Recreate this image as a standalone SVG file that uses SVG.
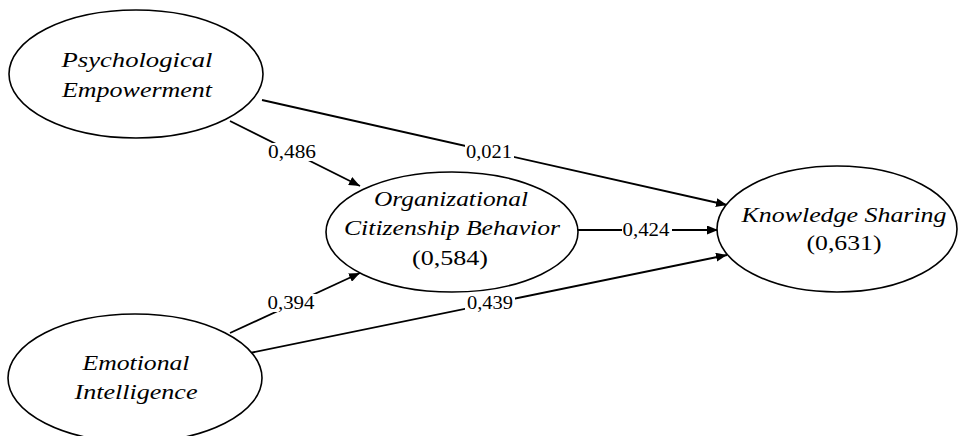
<svg xmlns="http://www.w3.org/2000/svg" width="959" height="436" viewBox="0 0 959 436">
  <style>
    .node ellipse { fill: #fff; stroke: #000; stroke-width: 1.6; }
    .name { font-family: "Liberation Serif", "Times New Roman", serif; font-style: italic; font-size: 22px; fill: #000; text-anchor: middle; }
    .r2 { font-family: "Liberation Serif", "Times New Roman", serif; font-size: 22px; fill: #000; text-anchor: middle; }
    .edge line { stroke: #000; stroke-width: 1.8; }
    .coef { font-family: "Liberation Serif", "Times New Roman", serif; font-size: 18px; fill: #000; text-anchor: middle; }
    .lblbg { fill: #fff; }
  </style>
  <defs>
    <marker id="arrow" viewBox="0 0 11 9" refX="11" refY="4.5" markerWidth="11" markerHeight="9" markerUnits="userSpaceOnUse" orient="auto">
      <path d="M0,0 L11,4.5 L0,9 Z" fill="#000"/>
    </marker>
  </defs>
  <rect width="959" height="436" fill="#fff"/>

  <!-- structural paths -->
  <g id="connectors" class="edge">
    <line x1="230" y1="121" x2="360" y2="186" marker-end="url(#arrow)"/>
    <line x1="262" y1="100" x2="727" y2="205" marker-end="url(#arrow)"/>
    <line x1="578" y1="230" x2="718" y2="230" marker-end="url(#arrow)"/>
    <line x1="230" y1="333" x2="360" y2="273" marker-end="url(#arrow)"/>
    <line x1="250" y1="353" x2="727" y2="255" marker-end="url(#arrow)"/>
    <!-- path coefficients -->
    <rect class="lblbg" x="267" y="143" width="51" height="18"/>
    <text class="coef" x="292" y="158" textLength="48" lengthAdjust="spacingAndGlyphs">0,486</text>
    <rect class="lblbg" x="465" y="143" width="49" height="18"/>
    <text class="coef" x="489" y="158" textLength="46" lengthAdjust="spacingAndGlyphs">0,021</text>
    <rect class="lblbg" x="622" y="221" width="50" height="18"/>
    <text class="coef" x="646" y="236" textLength="47" lengthAdjust="spacingAndGlyphs">0,424</text>
    <rect class="lblbg" x="266" y="294" width="51" height="18"/>
    <text class="coef" x="291" y="309" textLength="47" lengthAdjust="spacingAndGlyphs">0,394</text>
    <rect class="lblbg" x="465" y="294" width="50" height="18"/>
    <text class="coef" x="490" y="309" textLength="46" lengthAdjust="spacingAndGlyphs">0,439</text>
  </g>

  <g id="psychological-empowerment" class="node">
    <ellipse cx="136" cy="74" rx="127" ry="64"/>
    <text class="name" x="137" y="67" textLength="151" lengthAdjust="spacingAndGlyphs">Psychological</text>
    <text class="name" x="137" y="97" textLength="150" lengthAdjust="spacingAndGlyphs">Empowerment</text>
  </g>

  <g id="organizational-citizenship-behavior" class="node">
    <ellipse cx="452" cy="232" rx="126" ry="60"/>
    <text class="name" x="451" y="206" textLength="154" lengthAdjust="spacingAndGlyphs">Organizational</text>
    <text class="name" x="452" y="235" textLength="216" lengthAdjust="spacingAndGlyphs">Citizenship Behavior</text>
    <text class="r2" x="450" y="265" textLength="76" lengthAdjust="spacingAndGlyphs">(0,584)</text>
  </g>

  <g id="knowledge-sharing" class="node">
    <ellipse cx="837" cy="229" rx="120" ry="63"/>
    <text class="name" x="844" y="222" textLength="205" lengthAdjust="spacingAndGlyphs">Knowledge Sharing</text>
    <text class="r2" x="844" y="250" textLength="75" lengthAdjust="spacingAndGlyphs">(0,631)</text>
  </g>

  <g id="emotional-intelligence" class="node">
    <ellipse cx="135" cy="378" rx="127" ry="64"/>
    <text class="name" x="136" y="370" textLength="107" lengthAdjust="spacingAndGlyphs">Emotional</text>
    <text class="name" x="136" y="399" textLength="123" lengthAdjust="spacingAndGlyphs">Intelligence</text>
  </g>
</svg>
